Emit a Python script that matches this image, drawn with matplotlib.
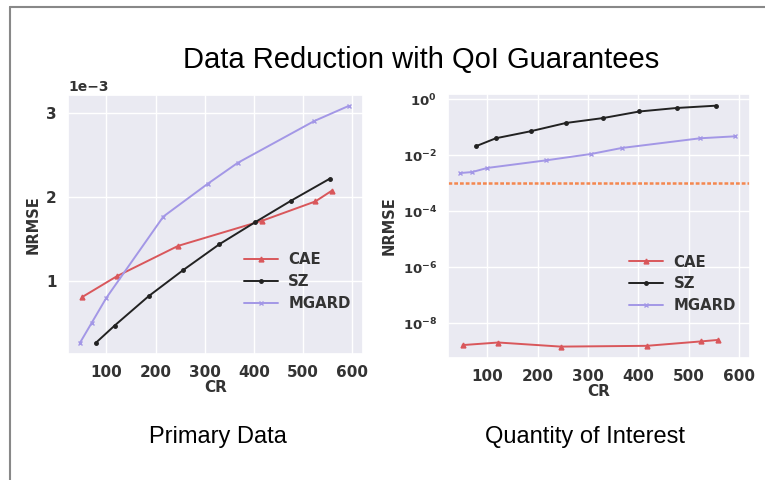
import matplotlib
matplotlib.use("Agg")
import matplotlib.pyplot as plt
import seaborn as sns
from matplotlib.lines import Line2D

sns.set_theme(style="darkgrid")
plt.rcParams['font.family'] = ['DejaVu Sans']

# ---- data ----
cae_cr = [51, 122, 246, 417, 525, 559]
cae_primary = [0.81e-3, 1.06e-3, 1.42e-3, 1.72e-3, 1.95e-3, 2.08e-3]
cae_qoi = [1.7e-9, 2.1e-9, 1.5e-9, 1.6e-9, 2.3e-9, 2.6e-9]

sz_cr = [78, 117, 186, 256, 330, 402, 476, 554]
sz_primary = [0.26e-3, 0.47e-3, 0.82e-3, 1.13e-3, 1.44e-3, 1.70e-3, 1.96e-3, 2.22e-3]
sz_qoi = [0.021, 0.040, 0.071, 0.14, 0.21, 0.36, 0.48, 0.58]

mg_cr = [46, 70, 100, 216, 306, 367, 523, 593]
mg_primary = [0.26e-3, 0.50e-3, 0.80e-3, 1.77e-3, 2.16e-3, 2.41e-3, 2.91e-3, 3.09e-3]
mg_qoi = [0.0023, 0.0025, 0.0035, 0.0065, 0.011, 0.018, 0.040, 0.047]

qoi_threshold = 1e-3

labels = ["CAE", "SZ", "MGARD"]
title = "Data Reduction with QoI Guarantees"
subtitles = ["Primary Data", "Quantity of Interest"]

c_cae = "#d9575b"
c_sz = "#222222"
c_mg = "#a397e6"
txt_c = "#333333"

fig = plt.figure(figsize=(7.65, 4.8), dpi=100)
fig.patch.set_facecolor("white")

W, H = 765, 480
def ax_rect(l, t, r, b):
    return [l / W, 1 - b / H, (r - l) / W, (b - t) / H]

ax1 = fig.add_axes(ax_rect(68, 95, 363, 354))
ax2 = fig.add_axes(ax_rect(448, 94, 750, 358))

for ax, ys in ((ax1, (cae_primary, sz_primary, mg_primary)),
               (ax2, (cae_qoi, sz_qoi, mg_qoi))):
    ax.plot(cae_cr, ys[0], color=c_cae, marker="^", ms=3.5, lw=1.4, label=labels[0])
    ax.plot(sz_cr, ys[1], color=c_sz, marker=".", ms=5, lw=1.4, label=labels[1])
    ax.plot(mg_cr, ys[2], color=c_mg, marker="x", ms=3, lw=1.4, label=labels[2])
    ax.set_xlim(22, 622)
    ax.set_xticks([100, 200, 300, 400, 500, 600])
    ax.set_xlabel("CR", fontsize=11, fontweight="bold", color=txt_c, labelpad=0)
    ax.set_ylabel("NRMSE", fontsize=10.5, fontweight="bold", color=txt_c, labelpad=4)
    ax.tick_params(axis="both", pad=2)
    ax.grid(True, color="white", lw=1.0)
    ax.set_facecolor("#eaeaf2")

ax1.set_ylim(0.13e-3, 3.22e-3)
ax1.set_yticks([1e-3, 2e-3, 3e-3])
ax1.ticklabel_format(axis="y", style="sci", scilimits=(-3, -3))
off = ax1.yaxis.get_offset_text()
off.set_fontweight("bold")
off.set_fontsize(10)
off.set_color(txt_c)

ax2.set_yscale("log")
ax2.set_ylim(10 ** -9.23, 10 ** 0.18)
ax2.set_yticks([1e-8, 1e-6, 1e-4, 1e-2, 1e0])
ax2.minorticks_off()
ax2.axhline(qoi_threshold, color="#f4874f", ls=(0, (1.5, 0.8)), lw=1.8)

for ax in (ax1, ax2):
    for lab in ax.get_xticklabels():
        lab.set_fontweight("bold")
        lab.set_fontsize(11)
        lab.set_color(txt_c)
for lab in ax1.get_yticklabels():
    lab.set_fontweight("bold")
    lab.set_fontsize(11)
    lab.set_color(txt_c)
for lab in ax2.get_yticklabels():
    lab.set_fontweight("bold")
    lab.set_fontsize(9.5)
    lab.set_color(txt_c)

leg_kw = dict(frameon=False, prop=dict(weight="bold", size=10.7), handlelength=2.3,
              labelspacing=0.45, handletextpad=0.7)
for t in ax1.legend(loc="lower left", bbox_to_anchor=(0.55, 0.115), **leg_kw).get_texts():
    t.set_color(txt_c)
for t in ax2.legend(loc="lower left", bbox_to_anchor=(0.555, 0.12), **leg_kw).get_texts():
    t.set_color(txt_c)

fig.text(421 / W, 1 - 60 / H, title, ha="center", va="center",
         fontsize=21, family="Liberation Sans", color="black")
fig.text(218 / W, 1 - 437 / H, subtitles[0], ha="center", va="center",
         fontsize=17, family="Liberation Sans", color="black")
fig.text(585 / W, 1 - 437 / H, subtitles[1], ha="center", va="center",
         fontsize=17, family="Liberation Sans", color="black")

# slide frame
fig.add_artist(Line2D([10 / W, 10 / W], [0, 1 - 7 / H], color="#888888", lw=1.5,
                      transform=fig.transFigure))
fig.add_artist(Line2D([10 / W, 1], [1 - 7 / H, 1 - 7 / H], color="#888888", lw=1.5,
                      transform=fig.transFigure))

fig.savefig("out.png", dpi=100)
